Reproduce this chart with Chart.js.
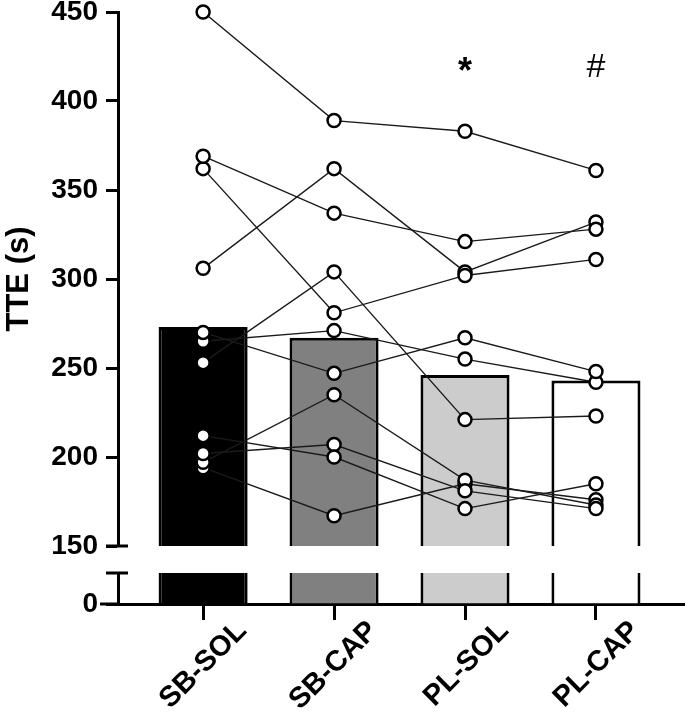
<!DOCTYPE html>
<html><head><meta charset="utf-8">
<script src="https://cdn.jsdelivr.net/npm/chart.js@4/dist/chart.umd.min.js"></script>
<style>html,body{margin:0;padding:0;background:#fff;}</style>
</head><body>
<canvas id="c" width="685" height="722"></canvas>
<script>
// ---- data ----
const categories = ['SB-SOL', 'SB-CAP', 'PL-SOL', 'PL-CAP'];
const barMeans = [273, 267, 246, 243];
// individual subjects (same index = same subject)
const sbSol = [450, 369, 362, 306, 270, 265, 253, 212, 202, 197, 194];
const sbCap = [389, 337, 281, 362, 247, 271, 304, 200, 207, 235, 167];
const plSol = [383, 321, 302, 304, 267, 255, 221, 171, 181, 187, 185];
const plCap = [361, 328, 311, 332, 248, 242, 223, 185, 171, 173, 176];
const upperTicks = [150, 200, 250, 300, 350, 400, 450];
const lowerTicks = [0];
const sigMarks = ['', '', '*', '#'];

// ---- styling ----
const barColors = ['#000000', '#808080', '#cccccc', '#ffffff'];
const upperMin = 150, upperMax = 450, lowerMin = 0, lowerMax = 17;
const sigValue = 419;
const FONT = '"Liberation Sans", Arial, sans-serif';
Chart.defaults.font.family = FONT;
Chart.defaults.color = '#000';

const conds = [sbSol, sbCap, plSol, plCap];
const subjects = sbSol.map((_, i) => conds.map((arr, j) => ({x: j, y: arr[i]})));

const datasets = [];
datasets.push({
  type: 'bar', yAxisID: 'y', order: 3, grouped: false,
  data: barMeans.map((v, i) => ({x: i, y: v})),
  backgroundColor: barColors, borderColor: '#000',
  borderWidth: {top: 3, left: 3, right: 3, bottom: 0}, borderSkipped: false,
  barPercentage: 0.68, categoryPercentage: 1
});
datasets.push({
  type: 'bar', yAxisID: 'y0', order: 3, grouped: false,
  data: barMeans.map((v, i) => ({x: i, y: Math.min(v, lowerMax)})),
  backgroundColor: barColors, borderColor: '#000',
  borderWidth: {top: 0, left: 3, right: 3, bottom: 0}, borderSkipped: false,
  barPercentage: 0.68, categoryPercentage: 1
});
subjects.forEach(pts => {
  datasets.push({
    type: 'line', yAxisID: 'y', order: 2, data: pts,
    borderColor: '#1a1a1a', borderWidth: 1.4, pointRadius: 0, fill: false, tension: 0
  });
});
subjects.forEach(pts => {
  datasets.push({
    type: 'line', yAxisID: 'y', order: 1, data: pts, showLine: false, clip: false,
    pointRadius: 6.5, pointBackgroundColor: '#fff', pointBorderColor: '#000', pointBorderWidth: 2.5
  });
});

function fixY(scale) { scale.width = 118; scale.paddingTop = 0; scale.paddingBottom = 0; }

const breakPlugin = {
  id: 'axisBreak',
  afterDraw(chart) {
    const ctx = chart.ctx;
    const yU = chart.scales.y, yL = chart.scales.y0, xS = chart.scales.x;
    const ax = chart.chartArea.left;
    ctx.save();
    ctx.strokeStyle = '#000'; ctx.lineWidth = 3; ctx.lineCap = 'butt';
    [yU.bottom, yL.top].forEach(py => {
      ctx.beginPath(); ctx.moveTo(ax - 12, py); ctx.lineTo(ax + 10, py); ctx.stroke();
    });
    ctx.beginPath(); ctx.moveTo(ax - 18, yL.bottom); ctx.lineTo(ax, yL.bottom); ctx.stroke();
    ctx.fillStyle = '#000';
    ctx.textAlign = 'center'; ctx.textBaseline = 'middle';
    sigMarks.forEach((m, i) => {
      if (!m) return;
      ctx.font = (m === '*' ? 'bold 36px ' : '34px ') + FONT;
      ctx.fillText(m, xS.getPixelForValue(i), yU.getPixelForValue(sigValue) + (m === '*' ? 6 : 0));
    });
    ctx.restore();
  }
};

new Chart(document.getElementById('c'), {
  type: 'bar',
  data: {datasets},
  plugins: [breakPlugin],
  options: {
    responsive: false, animation: false,
    layout: {autoPadding: false, padding: {top: 12, left: 0, right: 0, bottom: 0}},
    plugins: {legend: {display: false}, tooltip: {enabled: false}},
    scales: {
      x: {
        type: 'linear', position: 'bottom', min: -0.65, max: 3.68, offset: false,
        afterBuildTicks: s => { s.ticks = categories.map((c, i) => ({value: i})); },
        afterFit: s => { s.height = 118; s.paddingLeft = 0; s.paddingRight = 0; },
        ticks: {callback: v => categories[v], font: {size: 29, weight: 'bold'}, color: '#000',
                maxRotation: 45, minRotation: 45, autoSkip: false, padding: -6, labelOffset: 39},
        grid: {display: true, offset: false, drawOnChartArea: false, drawTicks: true, tickLength: 16, tickWidth: 3, tickColor: '#000'},
        border: {display: true, width: 3, color: '#000'}
      },
      y0: {
        type: 'linear', position: 'left', stack: 'v', stackWeight: 31, weight: 1,
        min: lowerMin, max: lowerMax,
        afterBuildTicks: s => { s.ticks = lowerTicks.map(v => ({value: v})); },
        afterFit: fixY,
        ticks: {font: {size: 28, weight: 'bold'}, color: '#000', padding: 8},
        grid: {drawOnChartArea: false, tickLength: 12, tickWidth: 3, tickColor: '#000'},
        border: {display: true, width: 3, color: '#000'}
      },
      yg: {
        type: 'linear', position: 'left', stack: 'v', stackWeight: 27, weight: 2,
        min: 0, max: 1,
        afterFit: fixY,
        ticks: {display: false}, grid: {display: false}, border: {display: false}
      },
      y: {
        type: 'linear', position: 'left', stack: 'v', stackWeight: 534, weight: 3,
        min: upperMin, max: upperMax,
        afterBuildTicks: s => { s.ticks = upperTicks.map(v => ({value: v})); },
        afterFit: fixY,
        ticks: {font: {size: 28, weight: 'bold'}, color: '#000', padding: 8},
        grid: {drawOnChartArea: false, tickLength: 12, tickWidth: 3, tickColor: '#000'},
        border: {display: true, width: 3, color: '#000'},
        title: {display: true, text: 'TTE (s)', font: {size: 31, weight: 'bold'}, color: '#000', padding: {top: 1, bottom: 0}}
      }
    }
  }
});
</script>
</body></html>
